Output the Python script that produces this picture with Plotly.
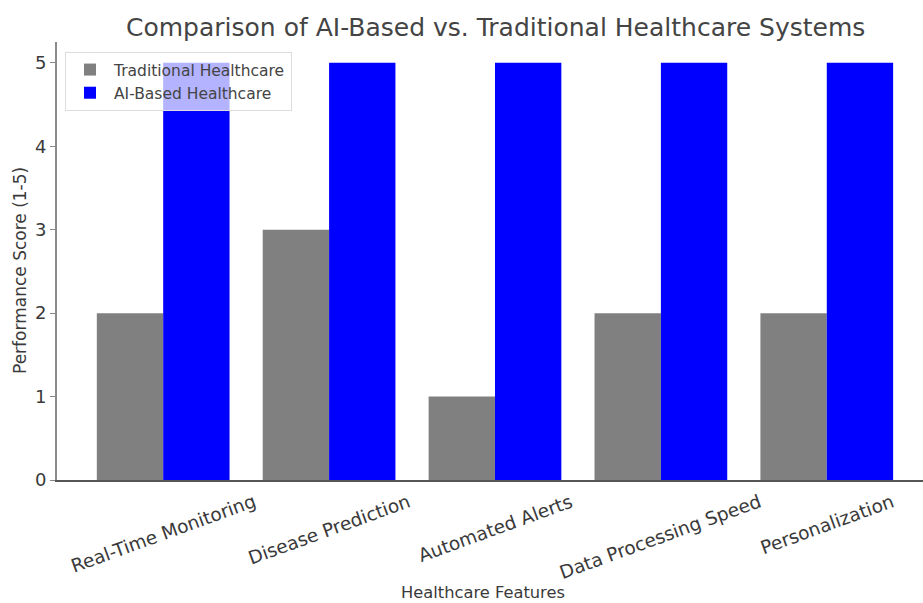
import plotly.graph_objects as go

categories = ["Real-Time Monitoring", "Disease Prediction", "Automated Alerts",
              "Data Processing Speed", "Personalization"]
traditional = [2, 3, 1, 2, 2]
ai_based = [5, 5, 5, 5, 5]
y_ticks = [0, 1, 2, 3, 4, 5]

FONT = "DejaVu Sans"
TXT = "#3a3a3a"

W, H = 923, 603
ML, MR, MT, MB = 57, 0, 42, 123
PW = W - ML - MR
PH = H - MT - MB

x_idx = list(range(len(categories)))

fig = go.Figure()
fig.add_trace(go.Bar(x=x_idx, y=traditional, name="Traditional Healthcare",
                     marker=dict(color="#808080", line=dict(width=0))))
fig.add_trace(go.Bar(x=x_idx, y=ai_based, name="AI-Based Healthcare",
                     marker=dict(color="#0000ff", line=dict(width=0))))

annotations = []
for i, c in enumerate(categories):
    annotations.append(dict(x=i, xref="x", y=0, yref="paper", yshift=-8,
                            text=c, showarrow=False, textangle=-20,
                            xanchor="center", yanchor="top",
                            font=dict(family=FONT, size=18.5, color=TXT)))

# axis titles and chart title
annotations.append(dict(x=(483 - ML) / PW, xref="paper", y=(H - 592 - MB + 0) / PH, yref="paper",
                        text="Healthcare Features", showarrow=False,
                        xanchor="center", yanchor="middle",
                        font=dict(family=FONT, size=16.3, color=TXT)))
annotations.append(dict(x=(20 - ML) / PW, xref="paper", y=(H - MB - 271) / PH, yref="paper",
                        text="Performance Score (1-5)", showarrow=False, textangle=-90,
                        xanchor="center", yanchor="middle",
                        font=dict(family=FONT, size=17, color=TXT)))
annotations.append(dict(x=(495 - ML) / PW, xref="paper", y=(H - MB - 28) / PH, yref="paper",
                        text="Comparison of AI-Based vs. Traditional Healthcare Systems",
                        showarrow=False, xanchor="center", yanchor="middle",
                        font=dict(family=FONT, size=25, color="#444444")))

fig.update_layout(
    width=W, height=H,
    margin=dict(l=ML, r=MR, t=MT, b=MB, pad=0),
    paper_bgcolor="white", plot_bgcolor="white",
    barmode="group", bargap=0.2, bargroupgap=0.0,
    font=dict(family=FONT, size=18, color=TXT),
    xaxis=dict(range=[-0.64, 4.58], showticklabels=False, ticks="",
               showgrid=False, zeroline=False, showline=True,
               linecolor="#555555", linewidth=2, fixedrange=True),
    yaxis=dict(range=[0, 5.25], tickvals=y_ticks, ticks="outside", ticklen=5,
               tickcolor="#888888", tickwidth=1, showgrid=False, zeroline=False,
               showline=True, linecolor="#8a8a8a", linewidth=2,
               tickfont=dict(family=FONT, size=18, color=TXT), fixedrange=True),
    legend=dict(x=(65 - ML) / PW, y=(H - MB - 52) / PH, xanchor="left", yanchor="top",
                bgcolor="rgba(255,255,255,0.7)", bordercolor="#dddddd", borderwidth=1,
                font=dict(family=FONT, size=15.5, color="#444444"),
                itemwidth=38, tracegroupgap=0),
    annotations=annotations,
    showlegend=True,
)

fig.write_html("out.html")
